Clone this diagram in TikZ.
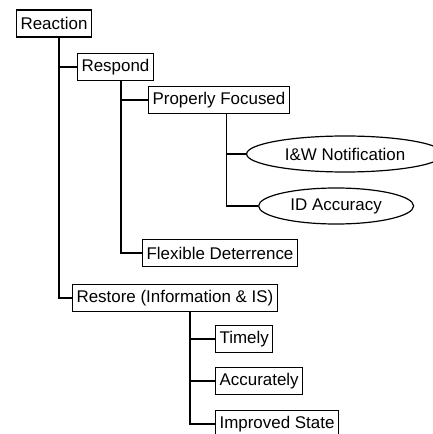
\documentclass[tikz,border=0pt]{standalone}
\usepackage{fontspec}
\setmainfont{Liberation Sans}
\usetikzlibrary{shapes.geometric}

\begin{document}
\begin{tikzpicture}[x=1bp,y=-1bp,font=\fontsize{17}{19}\selectfont,
  box/.style={draw,line width=1.2bp,anchor=west,inner xsep=4bp,inner ysep=0bp,minimum height=27bp},
  oval/.style={draw,ellipse,line width=1.2bp,anchor=west,inner sep=0bp,minimum height=36bp},
  link/.style={line width=1.4bp}]
\useasboundingbox (0,0) rectangle (433,434);
\node[box] (reaction) at (16,23.5) {Reaction};
\node[box] (respond) at (77,67) {Respond};
\node[box] (focused) at (148,100) {Properly Focused};
\node[oval,minimum width=197bp] (notify) at (246,154) {I\&W Notification};
\node[oval,minimum width=155bp] (idacc) at (258,206) {ID Accuracy};
\node[box] (flexible) at (142,253) {Flexible Deterrence};
\node[box] (restore) at (72,298) {Restore (Information \& IS)};
\foreach \n/\lab/\y in {timely/Timely/339,accurate/Accurately/381,improved/Improved State/424}
  \node[box] (\n) at (215,\y) {\lab};
\coordinate (trunkA) at (59,0 |- reaction.south);
\coordinate (trunkB) at (121,0 |- respond.south);
\coordinate (trunkC) at (226.5,0 |- focused.south);
\coordinate (trunkD) at (190,0 |- restore.south);
\foreach \a/\b in {trunkA/respond,trunkA/restore,trunkB/focused,trunkB/flexible,
  trunkC/notify,trunkC/idacc,trunkD/timely,trunkD/accurate,trunkD/improved}
  \draw[link] (\a) |- (\b.west);
\end{tikzpicture}
\end{document}
